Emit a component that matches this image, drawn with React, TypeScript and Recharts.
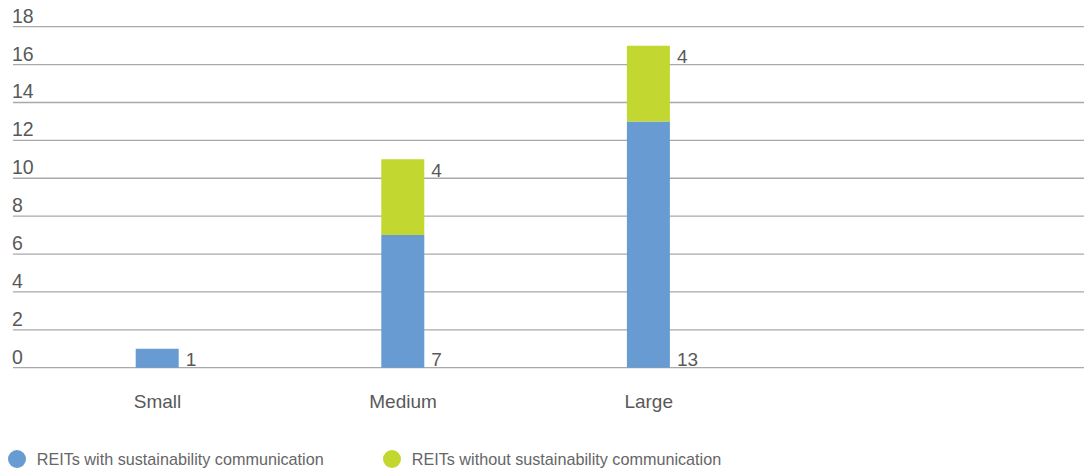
import { BarChart, Bar, XAxis, YAxis, CartesianGrid, Legend, LabelList } from 'recharts';

const categories = ['Small', 'Medium', 'Large'];
const withComm = [1, 7, 13];
const withoutComm = [null, 4, 4];
const yTicks = [0, 2, 4, 6, 8, 10, 12, 14, 16, 18];

const SERIES = [
  { key: 'with', name: 'REITs with sustainability communication', color: '#689BD2' },
  { key: 'without', name: 'REITs without sustainability communication', color: '#C2D72F' },
];

const data = categories.map((c, i) => ({ name: c, with: withComm[i], without: withoutComm[i] }));

const FONT = '"Liberation Sans", Arial, sans-serif';
const TEXT = '#595959';

function YTick({ x, y, payload }: any) {
  return (
    <text x={x - 1} y={y - 4} fill={TEXT} fontSize={19.5} fontFamily={FONT} textAnchor="start">
      {payload.value}
    </text>
  );
}

function XTick({ x, y, payload }: any) {
  return (
    <text x={x} y={y + 38.5} fill={TEXT} fontSize={19} fontFamily={FONT} textAnchor="middle">
      {payload.value}
    </text>
  );
}

function bottomLabel({ x, y, width, height, value }: any) {
  if (value == null) return null;
  return (
    <text x={x + width + 7} y={y + height - 2} fill={TEXT} fontSize={19} fontFamily={FONT}>
      {value}
    </text>
  );
}

function topLabel({ x, y, width, value }: any) {
  if (value == null) return null;
  return (
    <text x={x + width + 7} y={y + 17.5} fill={TEXT} fontSize={19} fontFamily={FONT}>
      {value}
    </text>
  );
}

function renderLegend() {
  return (
    <div style={{ height: 40, boxSizing: 'border-box', paddingTop: 18, fontFamily: FONT }}>
      <div style={{ display: 'flex', height: 18, paddingLeft: 7.7 }}>
        {SERIES.map((s) => (
          <div key={s.key} style={{ width: 375, display: 'flex', alignItems: 'center' }}>
            <span style={{ width: 18, height: 18, borderRadius: '50%', background: s.color, display: 'inline-block', flexShrink: 0 }} />
            <span style={{ marginLeft: 11, fontSize: 16.2, color: '#666', lineHeight: '18px', whiteSpace: 'nowrap' }}>{s.name}</span>
          </div>
        ))}
      </div>
    </div>
  );
}

export default function App() {
  return (
    <div>
      <style>{'body{margin:0}'}</style>
      <BarChart width={1084} height={472} data={data} margin={{ top: 26.7, right: 0, bottom: 0, left: 12 }}>
        <CartesianGrid vertical={false} stroke="#a9a9a9" strokeWidth={1.3} />
        <XAxis
          dataKey="name"
          axisLine={false}
          tickLine={false}
          tickSize={0}
          height={64.3}
          padding={{ left: 21.7, right: 312.5 }}
          tick={<XTick />}
        />
        <YAxis
          type="number"
          domain={[0, 18]}
          ticks={yTicks}
          interval={0}
          width={1}
          axisLine={false}
          tickLine={false}
          tickSize={0}
          tickMargin={0}
          tick={<YTick />}
        />
        <Legend verticalAlign="bottom" content={renderLegend} wrapperStyle={{ left: 0, width: 1084, bottom: 0 }} />
        <Bar dataKey="with" name={SERIES[0].name} stackId="a" fill={SERIES[0].color} barSize={43} isAnimationActive={false}>
          <LabelList dataKey="with" content={bottomLabel} />
        </Bar>
        <Bar dataKey="without" name={SERIES[1].name} stackId="a" fill={SERIES[1].color} barSize={43} isAnimationActive={false}>
          <LabelList dataKey="without" content={topLabel} />
        </Bar>
      </BarChart>
    </div>
  );
}
